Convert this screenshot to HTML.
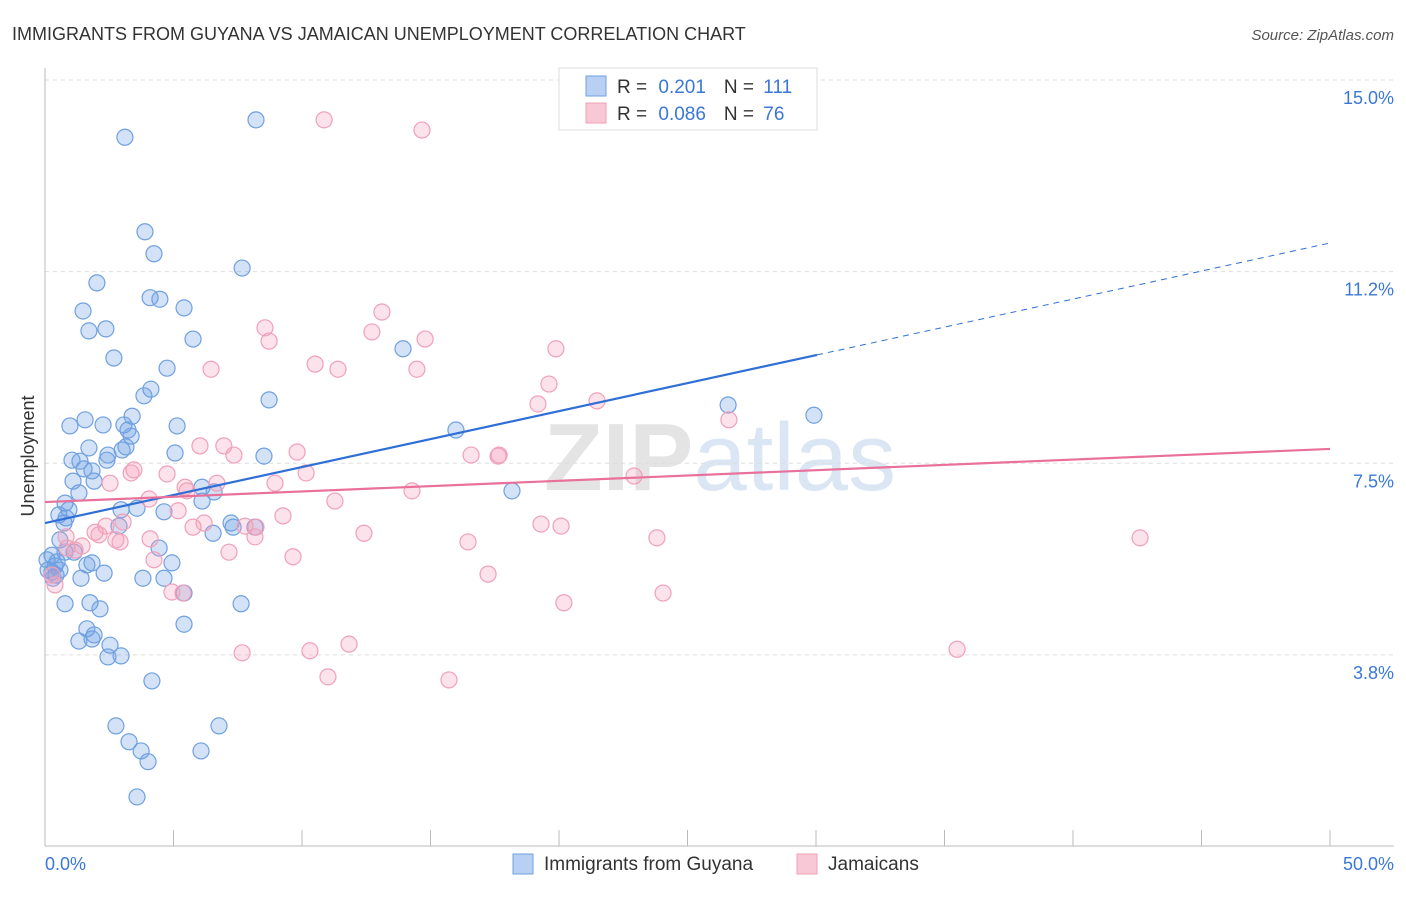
<!DOCTYPE html>
<html><head><meta charset="utf-8">
<style>
body{margin:0;background:#fff;font-family:"Liberation Sans",sans-serif;}
svg text{font-family:"Liberation Sans",sans-serif;}
</style></head>
<body>
<svg id="chart" width="1406" height="892" viewBox="0 0 1406 892" xmlns="http://www.w3.org/2000/svg">
<text x="12" y="40" font-size="18" fill="#333">IMMIGRANTS FROM GUYANA VS JAMAICAN UNEMPLOYMENT CORRELATION CHART</text>
<text x="1394" y="40" font-size="15" fill="#555" font-style="italic" text-anchor="end">Source: ZipAtlas.com</text>
<text x="720" y="490" font-size="96" fill="#e8e8e8" text-anchor="middle" font-family="Liberation Serif"><tspan fill="#e4e4e4" font-weight="bold">ZIP</tspan><tspan fill="#dbe6f4">atlas</tspan></text>
<g id="grid"></g>
<g id="axes"></g>
<g id="marks"></g>
<text transform="translate(34,456) rotate(-90)" font-size="18" fill="#333" text-anchor="middle">Unemployment</text>
<text x="45" y="870" font-size="18" fill="#3a78d8">0.0%</text>
<text x="1394" y="870" font-size="18" fill="#3a78d8" text-anchor="end">50.0%</text>
<g>
<rect x="559" y="68" width="258" height="62" fill="#fff" stroke="#ddd"/>
<rect x="586" y="76" width="20" height="20" fill="#b8d0f4" stroke="#6fa0e0"/>
<rect x="586" y="103" width="20" height="20" fill="#f9c8d6" stroke="#f0a0b8"/>
<text x="617" y="93" font-size="19" fill="#333">R = <tspan fill="#3a78d8" dx="6">0.201</tspan><tspan dx="18">N = </tspan><tspan fill="#3a78d8" dx="4">111</tspan></text>
<text x="617" y="120" font-size="19" fill="#333">R = <tspan fill="#3a78d8" dx="6">0.086</tspan><tspan dx="18">N = </tspan><tspan fill="#3a78d8" dx="4">76</tspan></text>
</g>
<g>
<rect x="513" y="854" width="20" height="20" fill="#b8d0f4" stroke="#6fa0e0"/>
<text x="544" y="870" font-size="19" fill="#333">Immigrants from Guyana</text>
<rect x="797" y="854" width="20" height="20" fill="#f9c8d6" stroke="#f0a0b8"/>
<text x="828" y="870" font-size="19" fill="#333">Jamaicans</text>
</g>
</svg>
<script>
const yTicks=[3.75,7.5,11.25,15];
const yTickLabels=["3.8%","7.5%","11.2%","15.0%"];
const xTicks=[0,5,10,15,20,25,30,35,40,45,50];
const guyanaX=[3.11,8.21,3.89,4.24,7.67,2.02,4.09,4.47,5.41,1.48,1.71,2.37,5.76,2.68,13.93,4.75,4.12,3.85,8.72,26.58,29.92,1.56,3.39,0.97,3.07,3.23,2.26,5.14,15.99,3.35,1.71,3.15,3.00,5.06,8.52,2.45,1.05,1.36,2.41,1.52,1.83,1.09,1.91,6.11,6.58,1.32,18.17,0.78,6.11,0.93,0.54,2.96,4.63,3.58,0.82,7.24,2.88,6.54,7.32,8.17,0.74,0.58,0.27,4.44,1.13,0.78,1.83,0.47,4.94,1.63,0.12,0.43,2.30,1.40,0.31,3.81,4.63,5.41,1.75,0.78,2.14,7.63,5.41,1.63,1.91,1.32,1.83,2.53,2.96,2.45,4.16,2.76,6.77,3.27,3.74,4.01,6.07,3.58,0.39,0.27,0.58,0.08];
const guyanaY=[13.88,14.22,12.03,11.60,11.32,11.03,10.74,10.71,10.54,10.48,10.09,10.13,9.93,9.56,9.74,9.36,8.95,8.82,8.74,8.64,8.44,8.35,8.42,8.23,8.25,8.15,8.25,8.23,8.15,8.03,7.80,7.82,7.76,7.70,7.64,7.66,7.56,7.54,7.56,7.39,7.35,7.15,7.15,7.03,6.94,6.92,6.96,6.72,6.76,6.59,6.49,6.59,6.55,6.62,6.43,6.33,6.27,6.13,6.25,6.25,6.33,6.00,5.70,5.84,5.76,5.76,5.55,5.57,5.55,5.51,5.41,5.31,5.35,5.25,5.25,5.25,5.25,4.96,4.77,4.75,4.65,4.75,4.35,4.26,4.14,4.02,4.06,3.94,3.73,3.71,3.24,2.36,2.36,2.05,1.87,1.66,1.87,0.97,5.49,5.37,5.41,5.61];
const jamX=[10.86,14.67,13.11,8.56,12.72,8.72,14.79,19.88,10.51,11.40,6.46,14.47,19.61,19.18,21.48,26.61,6.03,6.96,9.81,7.35,16.58,17.63,17.67,3.46,4.75,3.35,10.16,22.92,2.53,8.95,5.45,5.53,6.69,14.28,4.05,11.28,5.18,3.04,2.37,5.76,6.19,7.78,8.21,9.26,12.41,1.95,2.10,2.76,8.17,19.30,20.08,0.82,1.44,4.09,2.92,16.46,23.81,42.61,7.16,9.65,4.24,1.17,0.86,17.24,20.19,4.94,5.37,24.05,7.67,10.31,11.83,35.49,11.01,15.72,0.39,0.27];
const jamY=[14.22,14.02,10.46,10.15,10.07,9.89,9.93,9.74,9.44,9.34,9.34,9.34,9.05,8.66,8.72,8.35,7.84,7.84,7.72,7.66,7.66,7.64,7.66,7.37,7.29,7.31,7.31,7.25,7.11,7.11,7.03,6.96,7.11,6.96,6.80,6.76,6.57,6.35,6.27,6.25,6.33,6.27,6.25,6.47,6.13,6.15,6.10,6.00,6.06,6.31,6.27,6.06,5.88,6.02,5.96,5.96,6.04,6.04,5.76,5.67,5.61,5.80,5.84,5.33,4.77,4.98,4.96,4.96,3.79,3.83,3.96,3.86,3.32,3.26,5.12,5.31];
const guyanaTrend=[6.33,9.62,11.81]; // at x=0, 30.04, 50
const guyanaTrendX=[0,30.04,50];
const jamTrend=[6.74,7.78];
const jamTrendX=[0,50];

const NS="http://www.w3.org/2000/svg";
const X=v=>45+v*25.7;
const Y=v=>80+(15-v)*51.1;
function mk(tag,attrs,parent){const e=document.createElementNS(NS,tag);for(const k in attrs)e.setAttribute(k,attrs[k]);parent.appendChild(e);return e;}
const grid=document.getElementById('grid'),axes=document.getElementById('axes'),marks=document.getElementById('marks');
yTicks.forEach((t,i)=>{
  const l=mk('line',{x1:45,x2:1394,y1:Y(t),y2:Y(t),stroke:'#ddd','stroke-dasharray':'4,4'},grid);
  
  
  const tx=mk('text',{x:1394,y:Y(t)+24,'font-size':18,fill:'#3a78d8','text-anchor':'end'},grid);
  tx.textContent=yTickLabels[i];
  
  
});
const ax=mk('line',{x1:45,x2:45,y1:68,y2:846,stroke:'#bbb'},axes);


const bx=mk('line',{x1:45,x2:1394,y1:846,y2:846,stroke:'#bbb'},axes);


xTicks.forEach(t=>{
  const l=mk('line',{x1:X(t),x2:X(t),y1:830,y2:846,stroke:'#bbb'},axes);
  
  
});
guyanaX.forEach((v,i)=>{
  const c=mk('circle',{cx:X(v),cy:Y(guyanaY[i]),r:8,fill:'rgba(110,160,230,0.3)',stroke:'#6fa0e0','stroke-width':1.2},marks);
  
  
});
jamX.forEach((v,i)=>{
  const c=mk('circle',{cx:X(v),cy:Y(jamY[i]),r:8,fill:'rgba(245,160,190,0.3)',stroke:'#f0a0b8','stroke-width':1.2},marks);
  
  
});
const t1=mk('line',{x1:X(guyanaTrendX[0]),y1:Y(guyanaTrend[0]),x2:X(guyanaTrendX[1]),y2:Y(guyanaTrend[1]),stroke:'#2f6fd6','stroke-width':2.2},marks);


const t2=mk('line',{x1:X(guyanaTrendX[1]),y1:Y(guyanaTrend[1]),x2:X(guyanaTrendX[2]),y2:Y(guyanaTrend[2]),stroke:'#2f6fd6','stroke-width':1,'stroke-dasharray':'6,5'},marks);


const t3=mk('line',{x1:X(jamTrendX[0]),y1:Y(jamTrend[0]),x2:X(jamTrendX[1]),y2:Y(jamTrend[1]),stroke:'#e8709a','stroke-width':2.2},marks);


</script>
</body></html>
